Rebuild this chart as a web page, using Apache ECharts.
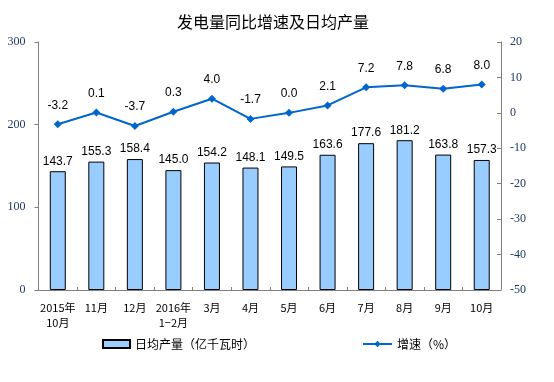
<!DOCTYPE html>
<html><head><meta charset="utf-8">
<script src="https://cdn.jsdelivr.net/npm/echarts@6/dist/echarts.min.js"></script>
<style>html,body{margin:0;padding:0;background:#fff}#c{width:554px;height:382px}</style>
</head><body><div id="c"></div>
<script>
var categories = ['2015年\n10月','11月','12月','2016年\n1−2月','3月','4月','5月','6月','7月','8月','9月','10月'];
var dailyOutput = [143.7,155.3,158.4,145.0,154.2,148.1,149.5,163.6,177.6,181.2,163.8,157.3];
var growth = [-3.2,0.1,-3.7,0.3,4.0,-1.7,0.0,2.1,7.2,7.8,6.8,8.0];
var leftTicks = [0,100,200,300];
var rightTicks = [-50,-40,-30,-20,-10,0,10,20];

var chart = echarts.init(document.getElementById('c'));
var axisColor = '#808080';
var tickLabelColor = '#1F3864';
chart.setOption({
  animation: false,
  textStyle: {fontFamily: 'Arial, "Liberation Sans", "Noto Sans CJK SC"'},
  title: {
    text: '发电量同比增速及日均产量', left: 172, top: 9,
    textStyle: {fontFamily: '"Noto Sans CJK SC"', fontSize: 16, fontWeight: 'normal', color: '#000'}
  },
  legend: [{
    data: [{name: '日均产量（亿千瓦时）', icon: 'rect'}],
    left: 102, top: 338, itemWidth: 27, itemHeight: 8, padding: 0,
    textStyle: {fontFamily: '"Noto Sans CJK SC"', fontSize: 12, color: '#000'}
  }, {
    data: ['增速（%）'],
    left: 362, top: 338, itemWidth: 29, itemHeight: 8, padding: 0,
    textStyle: {fontFamily: '"Noto Sans CJK SC"', fontSize: 12, color: '#000'}
  }],
  grid: {left: 38.5, right: 53, top: 42, bottom: 92},
  xAxis: {
    type: 'category', data: categories, boundaryGap: true,
    axisLine: {lineStyle: {color: axisColor}},
    axisTick: {show: true, alignWithLabel: false, length: 3, inside: true, lineStyle: {color: axisColor}},
    axisLabel: {color: '#000', fontSize: 11, margin: 10, lineHeight: 15, interval: 0,
      fontFamily: '"Noto Sans CJK SC"'}
  },
  yAxis: [{
    type: 'value', min: leftTicks[0], max: leftTicks[leftTicks.length-1], interval: 100,
    splitLine: {show: false},
    axisLine: {show: true, lineStyle: {color: axisColor}},
    axisTick: {show: true, length: 4, lineStyle: {color: axisColor}},
    axisLabel: {color: tickLabelColor, fontSize: 12, margin: 13, fontFamily: '"Liberation Serif", serif'}
  }, {
    type: 'value', min: rightTicks[0], max: rightTicks[rightTicks.length-1], interval: 10,
    splitLine: {show: false},
    axisLine: {show: true, lineStyle: {color: axisColor}},
    axisTick: {show: true, inside: true, length: 4, lineStyle: {color: axisColor}},
    axisLabel: {color: tickLabelColor, fontSize: 12, margin: 9, fontFamily: '"Liberation Serif", serif'}
  }],
  series: [{
    name: '日均产量（亿千瓦时）', type: 'bar', data: dailyOutput, barWidth: 16,
    itemStyle: {color: '#99CCFF', borderColor: '#000', borderWidth: 1},
    label: {show: true, position: 'top', distance: 4, color: '#000', fontSize: 12,
      formatter: function(p){return p.value.toFixed(1);}}
  }, {
    name: '增速（%）', type: 'line', yAxisIndex: 1, data: growth,
    symbol: 'diamond', symbolSize: 8,
    lineStyle: {color: '#0066CC', width: 2},
    itemStyle: {color: '#0066CC'},
    label: {show: true, position: 'top', distance: 9, color: '#000', fontSize: 12,
      formatter: function(p){return p.value.toFixed(1);}}
  }]
});
</script></body></html>
